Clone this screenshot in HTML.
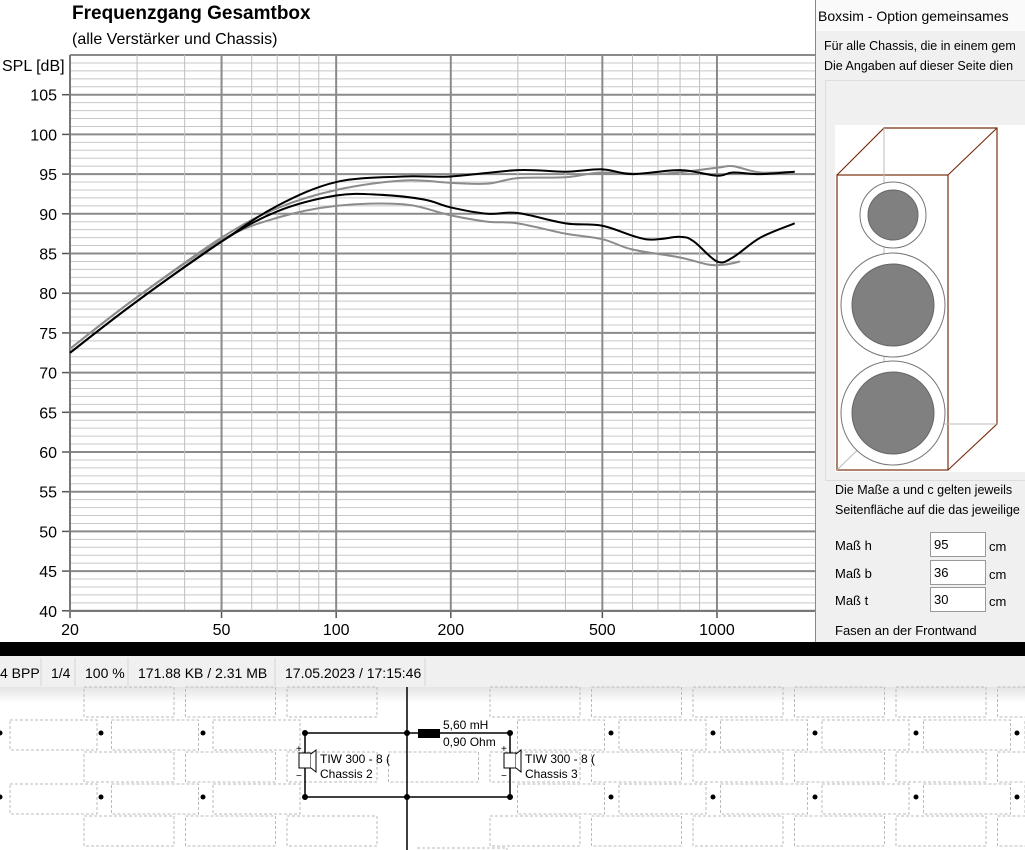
<!DOCTYPE html>
<html><head><meta charset="utf-8"><style>
body{margin:0;width:1025px;height:850px;overflow:hidden;background:#fff;font-family:"Liberation Sans",sans-serif;position:relative}
.a{position:absolute;white-space:nowrap}
</style></head><body>
<svg id="s" class="a" style="left:0;top:0" width="1025" height="850" xmlns="http://www.w3.org/2000/svg"></svg>
<script>
var S=document.getElementById('s'),h='';
function X(f){return 70+380.8*Math.log10(f/20);}
function Y(d){return 55+(110-d)*7.94;}
h+='<defs><linearGradient id="g" x1="0" y1="0" x2="0" y2="1"><stop offset="0" stop-color="#e4e4e4"/><stop offset="1" stop-color="#fff"/></linearGradient><clipPath id="c"><rect x="0" y="0" width="814" height="640"/></clipPath></defs>';
for(var d=40;d<=110;d++){var y=Y(d);var maj=d%5==0;h+='<line x1="70" x2="815" y1="'+y+'" y2="'+y+'" stroke="'+(maj?'#8a8a8a':'#c8c8c8')+'" stroke-width="'+(maj?2:1)+'"/>';}
var fs=[20,30,40,50,60,70,80,90,100,200,300,400,500,600,700,800,900,1000,2000];
fs.forEach(function(f){var x=X(f);if(x>815)return;var maj=[20,50,100,200,500,1000].indexOf(f)>=0;h+='<line y1="55" y2="611" x1="'+x+'" x2="'+x+'" stroke="'+(maj?'#8a8a8a':'#c0c0c0')+'" stroke-width="'+(maj?2:1)+'"/>';});
for(var d=40;d<=105;d+=5){h+='<line x1="62" x2="70" y1="'+Y(d)+'" y2="'+Y(d)+'" stroke="#555" stroke-width="1.5"/><text x="57" y="'+(Y(d)+6)+'" text-anchor="end" font-size="16">'+d+'</text>';}
[20,50,100,200,500,1000].forEach(function(f){h+='<line y1="611" y2="618" x1="'+X(f)+'" x2="'+X(f)+'" stroke="#555" stroke-width="1.5"/><text x="'+X(f)+'" y="635" text-anchor="middle" font-size="16">'+f+'</text>';});
h+='<line x1="70" x2="70" y1="55" y2="611" stroke="#777" stroke-width="2"/><line x1="70" x2="815" y1="611" y2="611" stroke="#777" stroke-width="2"/>';
function curve(pts,c){var p=pts.map(function(a){return [X(a[0]),Y(a[1])]});var s='M'+p[0][0]+' '+p[0][1];for(var i=0;i<p.length-1;i++){var p0=p[i-1]||p[i],p1=p[i],p2=p[i+1],p3=p[i+2]||p2;s+=' C'+(p1[0]+(p2[0]-p0[0])/6)+' '+(p1[1]+(p2[1]-p0[1])/6)+' '+(p2[0]-(p3[0]-p1[0])/6)+' '+(p2[1]-(p3[1]-p1[1])/6)+' '+p2[0]+' '+p2[1];}h+='<path clip-path="url(#c)" d="'+s+'" fill="none" stroke="'+c+'" stroke-width="2"/>';}
curve([[20,73],[30,79.5],[50,87],[70,90.7],[100,93],[150,94.2],[200,93.9],[250,93.8],[300,94.5],[400,94.6],[500,95.2],[700,95],[1000,95.8],[1100,96],[1300,95.2],[1600,95.3]],'#8c8c8c');
curve([[20,73],[30,79.5],[50,86.7],[70,89.5],[100,91],[150,91.2],[200,89.8],[250,89],[300,88.8],[400,87.5],[500,86.8],[600,85.5],[800,84.5],[950,83.6],[1050,83.6],[1150,84]],'#8c8c8c');
curve([[20,72.5],[30,79],[50,86.5],[70,90.3],[100,92.3],[130,92.4],[170,91.8],[200,90.8],[250,90],[300,90.1],[400,88.8],[500,88.5],[650,86.8],[800,87.1],[870,86.5],[1000,84],[1100,84.5],[1300,87],[1600,88.8]],'#000');
curve([[20,72.5],[30,79],[50,86.5],[70,91],[100,94],[150,94.7],[200,94.7],[300,95.5],[400,95.3],[500,95.6],[600,95],[800,95.5],[1000,94.8],[1100,95.2],[1300,95],[1600,95.3]],'#000');
h+='<text x="72" y="19" font-size="19" font-weight="bold">Frequenzgang Gesamtbox</text><text x="72" y="44" font-size="16">(alle Verstärker und Chassis)</text><text x="2" y="71" font-size="16">SPL [dB]</text>';
h+='<rect x="0" y="642" width="1025" height="14" fill="#000"/><rect x="0" y="656" width="1025" height="31" fill="#f0f0f0"/>';
h+='<text x="0" y="678" font-size="14">4 BPP</text><text x="51" y="678" font-size="14">1/4</text><text x="85" y="678" font-size="14">100 %</text><text x="138" y="678" font-size="14">171.88 KB / 2.31 MB</text><text x="285" y="678" font-size="14">17.05.2023 / 17:15:46</text>';
[41,75,128,275,425].forEach(function(x){h+='<line x1="'+x+'" x2="'+x+'" y1="658" y2="686" stroke="#d6d6d6"/>';});
h+='<rect x="0" y="687" width="1025" height="16" fill="url(#g)"/>';
var P=101.5;
function brickRow(y,x0,w,skip){for(var k=-1;k<11;k++){if(skip.indexOf(k)>=0)continue;var x=x0+P*k;h+='<rect x="'+x+'" y="'+y+'" width="'+w+'" height="30" fill="none" stroke="#bbb" stroke-dasharray="3,2"/>';}}
brickRow(687,84,90,[-1,3]);brickRow(720,10,87,[-1,3,4]);brickRow(752,84,90,[-1]);brickRow(784,10,87,[-1,3,4]);brickRow(816,84,90,[-1,3]);
h+='<rect x="417" y="848" width="90" height="30" fill="none" stroke="#bbb" stroke-dasharray="3,2"/>';
[733,797].forEach(function(y){[0,101,203,611,713,815,916,1017].forEach(function(x){h+='<circle cx="'+x+'" cy="'+y+'" r="2.5"/>';});});
h+='<line x1="407" x2="407" y1="687" y2="850" stroke="#000" stroke-width="1.5"/><rect x="305" y="733" width="205" height="64" fill="none" stroke="#000" stroke-width="1.5"/><rect x="418" y="729" width="22" height="9" fill="#000"/>';
[[305,733],[407,733],[510,733],[305,797],[407,797],[510,797]].forEach(function(p){h+='<circle cx="'+p[0]+'" cy="'+p[1]+'" r="3"/>';});
h+='<text x="443" y="729" font-size="12">5,60 mH</text><text x="443" y="746" font-size="12">0,90 Ohm</text>';
[300,505].forEach(function(x,i){h+='<rect x="'+(x-1)+'" y="753" width="12" height="15" fill="#fff" stroke="#000"/><path d="M'+(x+11)+' 754 l5 -4 v22 l-5 -4" fill="#fff" stroke="#000"/><text x="'+(x+20)+'" y="763" font-size="12">TIW 300 - 8 (</text><text x="'+(x+20)+'" y="778" font-size="12">Chassis '+(i+2)+'</text><text x="'+(x-4)+'" y="752" font-size="10">+</text><text x="'+(x-4)+'" y="779" font-size="10">−</text>';});
h+='<rect x="815" y="0" width="210" height="642" fill="#f0f0f0"/><rect x="815" y="0" width="210" height="31" fill="#fafafa"/><line x1="815.5" x2="815.5" y1="0" y2="642" stroke="#888"/>';
h+='<text x="818" y="21" font-size="14">Boxsim - Option gemeinsames</text><text x="824" y="50" font-size="12.5">Für alle Chassis, die in einem gem</text><text x="824" y="70" font-size="12.5">Die Angaben auf dieser Seite dien</text>';
h+='<rect x="825.5" y="80.5" width="210" height="400" fill="none" stroke="#ddd"/><rect x="835" y="125" width="190" height="347" fill="#fff"/>';
var b='#7a2e10';h+='<g fill="none" stroke="'+b+'" stroke-width="1.2"><rect x="837" y="175" width="111" height="295"/><path d="M837 175 L884 128 H997 V424 L948 470 M948 175 L997 128"/></g><path d="M884 128 V424 H997 M884 424 L837 470" stroke="#bbb" fill="none"/>';
[[893,215,25,33],[893,305,41,52],[893,413,41,52]].forEach(function(c){h+='<circle cx="'+c[0]+'" cy="'+c[1]+'" r="'+c[3]+'" fill="#fff" stroke="#777"/><circle cx="'+c[0]+'" cy="'+c[1]+'" r="'+c[2]+'" fill="#808080" stroke="#666"/>';});
h+='<text x="835" y="494" font-size="12.5">Die Maße a und c gelten jeweils</text><text x="835" y="514" font-size="12.5">Seitenfläche auf die das jeweilige</text>';
[['h','95',545],['b','36',573],['t','30',600]].forEach(function(m){h+='<text x="835" y="'+(m[2]+5)+'" font-size="13">Maß '+m[0]+'</text><rect x="930.5" y="'+(m[2]-12.5)+'" width="55" height="24" fill="#fff" stroke="#999"/><text x="934" y="'+(m[2]+4)+'" font-size="13">'+m[1]+'</text><text x="989" y="'+(m[2]+6)+'" font-size="13">cm</text>';});
h+='<text x="835" y="635" font-size="13">Fasen an der Frontwand</text>';
S.innerHTML=h;
</script>
</body></html>
